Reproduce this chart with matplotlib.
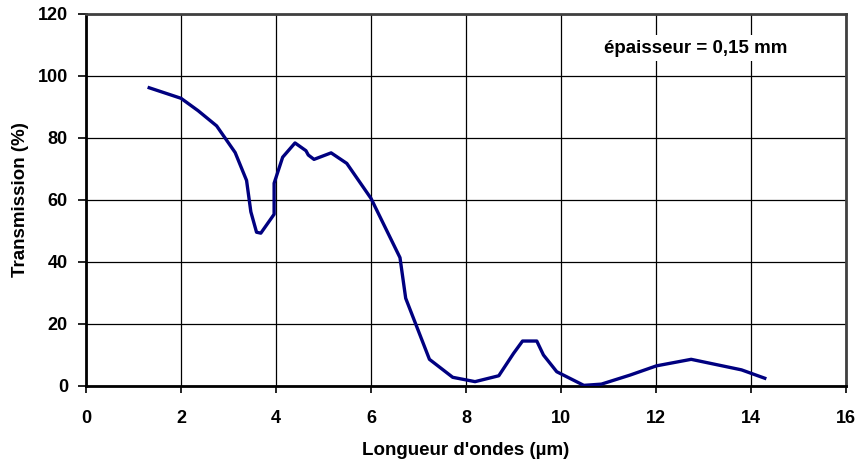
import matplotlib
matplotlib.use("Agg")
import matplotlib.pyplot as plt

plt.rcParams['font.family'] = ['Liberation Sans', 'DejaVu Sans']
plt.rcParams['font.weight'] = 'bold'

# longueur d'onde (um) et transmission (%)
wavelength = [1.33, 2.0, 2.36, 2.75, 3.14, 3.38, 3.47, 3.59, 3.68, 3.96, 3.96,
              4.14, 4.40, 4.63, 4.68, 4.80, 5.16, 5.49, 6.0, 6.61, 6.73, 7.23,
              7.72, 8.19, 8.69, 9.0, 9.19, 9.49, 9.63, 9.91, 10.48, 10.85,
              11.45, 12.01, 12.74, 13.8, 14.29]
transmission = [96.2, 92.8, 88.8, 83.9, 75.3, 66.3, 56.2, 49.6, 49.3, 55.4, 65.4,
                73.8, 78.4, 75.9, 74.5, 73.1, 75.2, 71.8, 60.5, 41.4, 28.3, 8.6,
                2.8, 1.4, 3.3, 10.5, 14.5, 14.5, 10.0, 4.6, 0.2, 0.6,
                3.5, 6.5, 8.6, 5.2, 2.5]

xticks = list(range(0, 17, 2))
yticks = list(range(0, 121, 20))

fig = plt.figure(figsize=(8.61, 4.66), dpi=100)
ax = fig.add_axes([0.0999, 0.1717, 0.8827, 0.7983])

ax.plot(wavelength, transmission, color='#000080', linewidth=2.4,
        solid_joinstyle='round', zorder=3)

ax.set_xlim(0, 16)
ax.set_ylim(0, 120)
ax.set_xticks(xticks)
ax.set_yticks(yticks)
ax.grid(True, color='black', linewidth=0.9)
ax.tick_params(axis='x', direction='out', length=5, width=1.2,
               labelsize=13, pad=12)
ax.tick_params(axis='y', direction='out', length=6, width=1.2,
               labelsize=13, pad=7)
for lab in ax.get_xticklabels() + ax.get_yticklabels():
    lab.set_fontweight('bold')

for side in ['left', 'bottom']:
    ax.spines[side].set_linewidth(2.0)
    ax.spines[side].set_color('black')
for side in ['top', 'right']:
    ax.spines[side].set_linewidth(2.0)
    ax.spines[side].set_color('#404040')

ax.set_xlabel("Longueur d'ondes (µm)", fontsize=13.5, fontweight='bold', labelpad=11)
ax.set_ylabel("Transmission (%)", fontsize=13.5, fontweight='bold', labelpad=6)

ax.text(12.83, 109, "épaisseur = 0,15 mm", fontsize=13.5, fontweight='bold',
        ha='center', va='center', zorder=4,
        bbox=dict(facecolor='white', edgecolor='none', pad=3))

fig.savefig("out.png", dpi=100)
